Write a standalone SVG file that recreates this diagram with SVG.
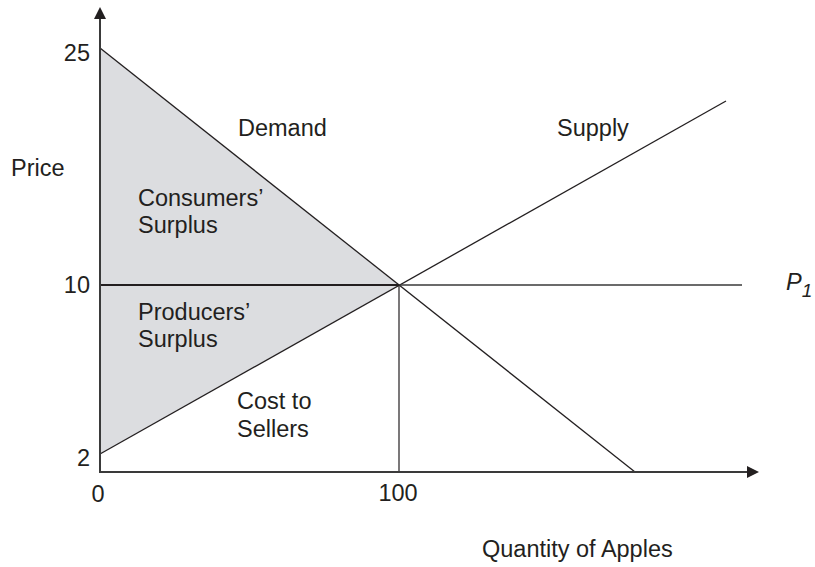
<svg xmlns="http://www.w3.org/2000/svg" width="815" height="567" viewBox="0 0 815 567">
<style>
text{font-family:"Liberation Sans",Arial,sans-serif;font-size:23.5px;fill:#231f20}
.ln{stroke:#231f20;stroke-width:1.3;fill:none}
.ax{stroke:#3a3a3a;stroke-width:2;fill:none}
.it{font-style:italic}
</style>
<rect width="815" height="567" fill="#fff"/>
<g id="surplus-area">
<polygon points="100,48 399,285 100,454" fill="#dcdde0"/>
</g>
<g id="connectors">
<line class="ln" x1="100" y1="48" x2="635" y2="472"/>
<line class="ln" x1="100" y1="454" x2="726" y2="101"/>
<line class="ln" x1="100" y1="285" x2="399" y2="285" style="stroke-width:2"/>
<line class="ln" x1="399" y1="285" x2="742" y2="285" style="stroke:#3a3a3a;stroke-width:1.5"/>
<line class="ln" x1="399" y1="285" x2="399" y2="472" style="stroke-width:1.2"/>
</g>
<g id="axes">
<line class="ax" x1="100" y1="472" x2="100" y2="17"/>
<polygon points="100,7 106,19 94,19" fill="#231f20"/>
<line class="ax" x1="99" y1="472" x2="750" y2="472"/>
<polygon points="759,472 747,466 747,478" fill="#231f20"/>
</g>
<g id="labels">
<text x="90" y="61" text-anchor="end">25</text>
<text x="90" y="293" text-anchor="end">10</text>
<text x="90" y="466" text-anchor="end">2</text>
<text x="98" y="502" text-anchor="middle">0</text>
<text x="398" y="501" text-anchor="middle">100</text>
<text x="11" y="176">Price</text>
<text x="238" y="136">Demand</text>
<text x="557" y="136">Supply</text>
<text x="138" y="206">Consumers’</text>
<text x="138" y="233">Surplus</text>
<text x="138" y="320">Producers’</text>
<text x="138" y="347">Surplus</text>
<text x="237" y="409">Cost to</text>
<text x="237" y="437">Sellers</text>
<text x="482" y="557">Quantity of Apples</text>
<text x="786" y="290" class="it">P<tspan font-size="19" dy="7">1</tspan></text>
</g>
</svg>
